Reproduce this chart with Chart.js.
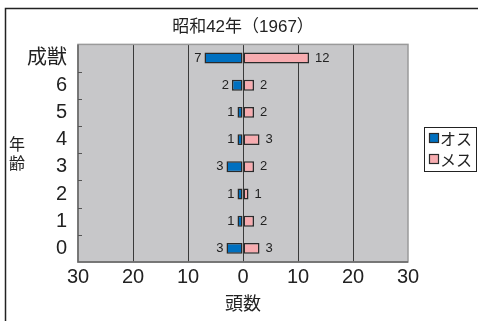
<!DOCTYPE html>
<html lang="ja">
<head>
<meta charset="utf-8">
<script src="https://cdn.jsdelivr.net/npm/chart.js@4"></script>
<style>
  html, body { margin: 0; padding: 0; background: #fff; }
  #wrap { width: 478px; height: 321px; }
</style>
</head>
<body>
<div id="wrap"><canvas id="pyramid" width="478" height="321"></canvas></div>
<script>
// 年齢別の頭数（オスは左、メスは右）
const ages = ["成獣", "6", "5", "4", "3", "2", "1", "0"];
const males = [7, 2, 1, 1, 3, 1, 1, 3];
const females = [12, 2, 2, 3, 2, 1, 2, 3];
const countMin = -30;
const countMax = 30;
const countStep = 10;

const BLUE = "rgb(0,112,192)";
const PINK = "rgb(247,172,176)";
const EDGE = "#2a2a2a";
const JP = "'Liberation Sans', 'Noto Sans CJK JP', sans-serif";

// 枠・背景・内向きの目盛・ラベル・凡例
const decorate = {
  id: "decorate",
  beforeDraw(chart) {
    const { ctx, chartArea: a } = chart;
    ctx.save();
    ctx.fillStyle = "#c7c7c9";
    ctx.fillRect(a.left, a.top, a.right - a.left, a.bottom - a.top);
    // 外枠（上と左）
    ctx.strokeStyle = "#222";
    ctx.lineWidth = 1.5;
    ctx.beginPath();
    ctx.moveTo(5.5, chart.height);
    ctx.lineTo(5.5, 8.5);
    ctx.lineTo(chart.width, 8.5);
    ctx.stroke();
    ctx.restore();
  },
  beforeDatasetsDraw(chart) {
    const { ctx, chartArea: a, scales } = chart;
    ctx.save();
    ctx.strokeStyle = "#9a9a9a";
    ctx.lineWidth = 1.5;
    ctx.strokeRect(a.left, a.top, a.right - a.left, a.bottom - a.top);
    ctx.strokeStyle = "#666";
    ctx.beginPath();
    ctx.moveTo(a.left, a.top);
    ctx.lineTo(a.left, a.bottom);
    ctx.lineTo(a.right, a.bottom);
    ctx.stroke();
    // 区切りの小さな目盛
    ctx.lineWidth = 1;
    ctx.strokeStyle = "#555";
    const y = scales.y;
    for (let i = 0; i < ages.length - 1; i++) {
      const py = Math.round((y.getPixelForValue(i) + y.getPixelForValue(i + 1)) / 2) + 0.5;
      ctx.beginPath();
      ctx.moveTo(a.left, py);
      ctx.lineTo(a.left + 4, py);
      ctx.stroke();
    }
    ctx.restore();
  },
  afterDatasetsDraw(chart) {
    const { ctx } = chart;
    ctx.save();
    ctx.font = "13px 'Liberation Sans', sans-serif";
    ctx.fillStyle = "#222";
    ctx.textBaseline = "middle";
    chart.data.datasets.forEach((ds, di) => {
      const meta = chart.getDatasetMeta(di);
      meta.data.forEach((bar, i) => {
        const v = Math.abs(ds.data[i]);
        if (ds.data[i] < 0) {
          ctx.textAlign = "right";
          ctx.fillText(v, bar.x - 3, bar.y);
        } else {
          ctx.textAlign = "left";
          ctx.fillText(v, bar.x + 6, bar.y);
        }
      });
    });
    ctx.restore();
  },
  afterDraw(chart) {
    const { ctx } = chart;
    ctx.save();
    // 縦書きの軸タイトル
    ctx.fillStyle = "#222";
    ctx.font = "16px 'Noto Sans CJK JP'";
    ctx.textAlign = "center";
    ctx.textBaseline = "middle";
    ctx.fillText("年", 17, 143.5);
    ctx.fillText("齢", 17, 162.5);
    // 凡例
    ctx.strokeStyle = "#222";
    ctx.lineWidth = 1;
    ctx.strokeRect(424.5, 127.5, 52, 44);
    ctx.font = "16px 'Noto Sans CJK JP'";
    ctx.textAlign = "left";
    chart.data.datasets.forEach((ds, i) => {
      const cy = 138 + i * 21;
      ctx.fillStyle = ds.backgroundColor;
      ctx.fillRect(429.5, cy - 4.5, 9, 9);
      ctx.strokeStyle = EDGE;
      ctx.lineWidth = 1.2;
      ctx.strokeRect(429.5, cy - 4.5, 9, 9);
      ctx.fillStyle = "#222";
      ctx.fillText(ds.label, 440, cy + 1);
    });
    ctx.restore();
  }
};

new Chart(document.getElementById("pyramid"), {
  type: "bar",
  data: {
    labels: ages,
    datasets: [
      {
        label: "オス",
        data: males.map(v => -v),
        backgroundColor: BLUE,
        borderColor: EDGE,
        borderWidth: 1.5,
        borderSkipped: false,
        barPercentage: 0.4,
        categoryPercentage: 1
      },
      {
        label: "メス",
        data: females,
        backgroundColor: PINK,
        borderColor: EDGE,
        borderWidth: 1.5,
        borderSkipped: false,
        barPercentage: 0.4,
        categoryPercentage: 1
      }
    ]
  },
  options: {
    indexAxis: "y",
    responsive: false,
    animation: false,
    devicePixelRatio: 1,
    layout: { padding: { top: 8, right: 70, bottom: 0, left: 0 } },
    plugins: {
      legend: { display: false },
      tooltip: { enabled: false },
      title: {
        display: true,
        text: "昭和42年（1967）",
        fullSize: false,
        color: "#222",
        font: { family: JP, size: 17, weight: "normal" },
        padding: { top: 9, bottom: 7 }
      }
    },
    scales: {
      x: {
        stacked: true,
        min: countMin,
        max: countMax,
        ticks: {
          stepSize: countStep,
          callback: v => Math.abs(v),
          color: "#222",
          padding: 3,
          maxRotation: 0,
          font: { family: "'Liberation Sans', sans-serif", size: 20 }
        },
        grid: {
          drawTicks: false,
          lineWidth: 1,
          color: c => (c.tick && Math.abs(c.tick.value) === countMax ? "rgba(0,0,0,0)" : "#3a3a3a")
        },
        border: { display: false },
        title: {
          display: true,
          text: "頭数",
          color: "#222",
          font: { family: JP, size: 18 },
          padding: { top: 0, bottom: 5 }
        },
        afterFit: s => { s.height = 59; }
      },
      y: {
        stacked: true,
        ticks: {
          color: "#222",
          padding: 11,
          font: { family: JP, size: 20 }
        },
        grid: { display: false, drawTicks: false },
        border: { display: false },
        afterFit: s => { s.width = 78; }
      }
    }
  },
  plugins: [decorate]
});
</script>
</body>
</html>
